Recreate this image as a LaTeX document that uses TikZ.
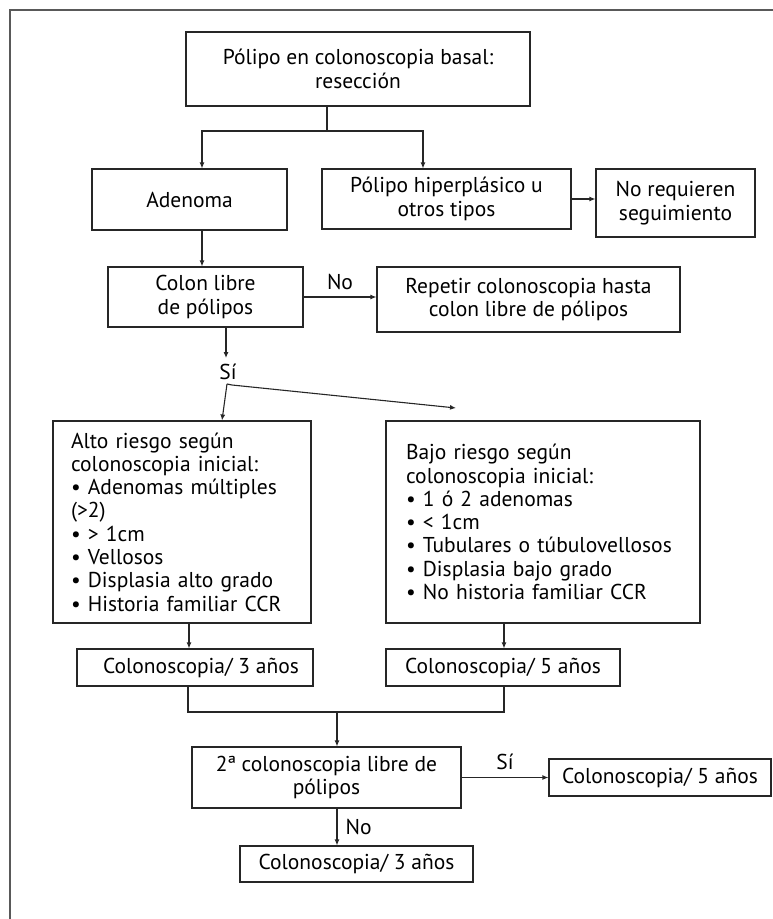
\documentclass[tikz,border=0pt]{standalone}
\usepackage{fontspec}
\setmainfont{PT Sans}
\usetikzlibrary{arrows.meta}
\tikzset{
  caja/.style={draw=black!85, line width=1.1pt, inner sep=0pt, align=center, text=black,
    font=\fontsize{21.5}{23.3}\selectfont},
  lista/.style={caja, align=left, inner xsep=18pt},
  lbl/.style={inner sep=0pt, text=black, font=\fontsize{21.5}{23.3}\selectfont},
  flecha/.style={draw=black!85, line width=1.1pt, -{Latex[length=6pt,width=5pt]}},
  linea/.style={draw=black!85, line width=1.1pt}
}
\begin{document}
\begin{tikzpicture}[x=1pt,y=-1pt]
    \useasboundingbox (0,0) rectangle (773,919);
    \draw[line width=1.8pt, black!65] (10,919) -- (10,10) -- (773,10);
    % cajas
    \node[caja, minimum width=344pt, minimum height=74pt] (basal) at (358,69) {Pólipo en colonoscopia basal:\\resección};
    \node[caja, minimum width=195pt, minimum height=61pt] (adenoma) at (189.5,199.5) {Adenoma};
    \node[caja, minimum width=249pt, minimum height=60pt] (hiper) at (446.5,199) {Pólipo hiperplásico u\\otros tipos};
    \node[caja, minimum width=159pt, minimum height=68pt] (noreq) at (675.5,203) {No requieren\\seguimiento};
    \node[caja, minimum width=195pt, minimum height=60pt] (libre) at (205.5,297) {Colon libre\\de pólipos};
    \node[caja, minimum width=303pt, minimum height=65pt] (repetir) at (528.5,299.5) {Repetir colonoscopia hasta\\colon libre de pólipos};
    \node[lista, text width=222pt, minimum height=202pt] (alto) at (182,522) {Alto riesgo según\\colonoscopia inicial:\\• Adenomas múltiples\\(>2)\\• > 1cm\\• Vellosos\\• Displasia alto grado\\• Historia familiar CCR};
    \node[lista, text width=274pt, minimum height=202pt, inner xsep=20pt] (bajo) at (543,522) {Bajo riesgo según\\colonoscopia inicial:\\• 1 ó 2 adenomas\\• < 1cm\\• Tubulares o túbulovellosos\\• Displasia bajo grado\\• No historia familiar CCR};
    \node[caja, minimum width=236pt, minimum height=37pt] (col3) at (195,667.5) {\hspace{12pt}Colonoscopia/ 3 años};
    \node[caja, minimum width=234pt, minimum height=37pt] (col5) at (503,667.5) {Colonoscopia/ 5 años};
    \node[caja, minimum width=269pt, minimum height=61pt] (segunda) at (326.5,777.5) {2ª colonoscopia libre de\\pólipos};
    \node[caja, minimum width=222pt, minimum height=37pt] (col5b) at (660,777.5) {Colonoscopia/ 5 años};
    \node[caja, minimum width=233pt, minimum height=36pt] (col3b) at (356.5,864) {Colonoscopia/ 3 años};
    % conectores
    \coordinate (j1) at (327,131);
    \draw[linea] (basal.south -| j1) -- (j1);
    \draw[flecha] (j1) -| ([xshift=12.5pt]adenoma.north);
    \draw[flecha] (j1) -| ([xshift=-23.5pt]hiper.north);
    \draw[flecha] (hiper.east) -- (hiper.east -| noreq.west);
    \draw[flecha] ([xshift=12.5pt]adenoma.south) -- ([xshift=12.5pt]adenoma.south |- libre.north);
    \draw[flecha] (libre.east) -- (libre.east -| repetir.west) node[lbl, midway, above=7pt] {No};
    \node[lbl] (si1) at (228,372) {Sí};
    \draw[flecha] ([xshift=20.5pt]libre.south) -- ([xshift=20.5pt]libre.south |- 0,358);
    \coordinate (j2) at (227,384);
    \coordinate (j3) at (456,408);
    \draw[flecha] (j2) -- ([xshift=40pt]alto.north);
    \draw[flecha] (j2) -- ++(5,1) -- (j3);
    \draw[flecha] ([xshift=7pt]alto.south) -- ([xshift=7pt]alto.south |- col3.north);
    \draw[flecha] ([xshift=-39pt]bajo.south) -- ([xshift=-39pt]bajo.south |- col5.north);
    \coordinate (j4) at (337,712);
    \draw[linea] ([xshift=-7pt]col3.south) |- (j4);
    \draw[linea] ([xshift=1pt]col5.south) |- (j4);
    \draw[flecha] (j4) -- (segunda.north -| j4);
    \draw[flecha] (segunda.east) -- (col5b.west) node[lbl, midway, above=7pt] {Sí};
    \draw[flecha] ([xshift=10.5pt]segunda.south) -- ([xshift=10.5pt]segunda.south |- col3b.north) node[lbl, midway, right=8pt] {No};
\end{tikzpicture}
\end{document}
